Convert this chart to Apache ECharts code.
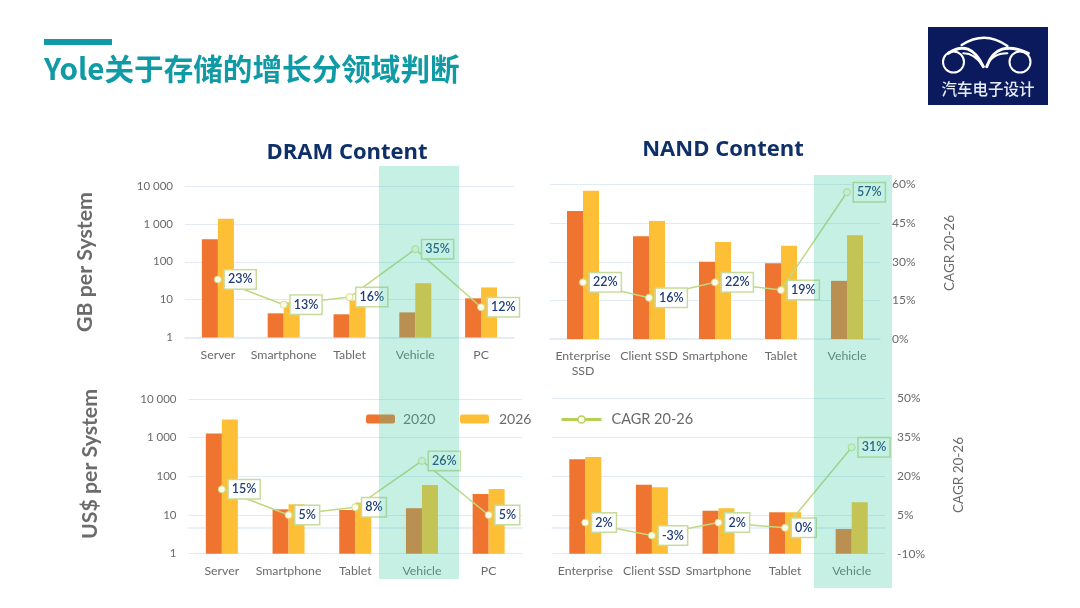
<!DOCTYPE html>
<html><head><meta charset="utf-8">
<style>html,body{margin:0;padding:0;background:#fff}#c{width:1080px;height:608px}</style>
<script src="https://cdn.jsdelivr.net/npm/echarts@6/dist/echarts.min.js"></script>
</head><body><div id="c"></div>
<script>
const dramCats = ['Server','Smartphone','Tablet','Vehicle','PC'];
const nandCatsTop = ['Enterprise\nSSD','Client SSD','Smartphone','Tablet','Vehicle'];
const nandCatsBottom = ['Enterprise','Client SSD','Smartphone','Tablet','Vehicle'];

const dramGb2020 = [390,4.35,4.1,4.6,10.8];
const dramGb2026 = [1365,8.5,9.5,27,21];
const dramGbCagr = [23,13,16,35,12];

const nandGb2020 = [2070,457,100,91,32];
const nandGb2026 = [6900,1140,325,261,485];
const nandGbCagr = [22,16,22,19,57];

const dramUsd2020 = [1290,14,13.5,15,35];
const dramUsd2026 = [2970,19,21,60,47];
const dramUsdCagr = [15,5,8,26,5];

const nandUsd2020 = [267,59,12.7,11.6,4.3];
const nandUsd2026 = [305,51,14.7,11.6,21];
const nandUsdCagr = [2,-3,2,0,31];

const cagrTicksTop = [0,15,30,45,60];
const cagrTicksBottom = [-10,5,20,35,50];

const FONT = 'Lato, "Noto Sans", sans-serif';
const ORANGE = '#ee7430', YELLOW = '#fdbf36', LINE = '#bdd983', GRIDC = '#e2eaf6';

const panels = [
  {cats:dramCats, a:dramGb2020, b:dramGb2026, c:dramGbCagr, left:185, top:186, w:329, h:151.5, logLabels:true, rightTicks:cagrTicksTop, showRight:false},
  {cats:nandCatsTop, a:nandGb2020, b:nandGb2026, c:nandGbCagr, left:550, top:184.5, w:330, h:154.5, logLabels:false, rightTicks:cagrTicksTop, showRight:true},
  {cats:dramCats, a:dramUsd2020, b:dramUsd2026, c:dramUsdCagr, left:188.5, top:399, w:333.5, h:154.7, logLabels:true, rightTicks:cagrTicksBottom, showRight:false},
  {cats:nandCatsBottom, a:nandUsd2020, b:nandUsd2026, c:nandUsdCagr, left:552, top:398, w:333, h:155.7, logLabels:false, rightTicks:cagrTicksBottom, showRight:true}
];

const grid=[], xAxis=[], yAxis=[], series=[];
panels.forEach((p,i)=>{
  grid.push({left:p.left, top:p.top, width:p.w, height:p.h, containLabel:false});
  xAxis.push({type:'category', gridIndex:i, data:p.cats,
    axisLine:{lineStyle:{color:GRIDC,width:1.5}}, axisTick:{show:false},
    axisLabel:{interval:0, color:'#6a6a6a', fontSize:12.3, fontFamily:FONT, margin:10, lineHeight:15}});
  yAxis.push({type:'log', logBase:10, gridIndex:i, min:1, max:10000, position:'left',
    axisLine:{show:false}, axisTick:{show:false},
    splitLine:{show:true, lineStyle:{color:GRIDC,width:1}},
    axisLabel:{show:p.logLabels, color:'#6a6a6a', fontSize:11.5, fontFamily:FONT, margin:12,
      formatter:v=>String(Math.round(v)).replace(/\B(?=(\d{3})+$)/g,' ')}});
  yAxis.push({type:'value', gridIndex:i, min:p.rightTicks[0], max:p.rightTicks[p.rightTicks.length-1], position:'right',
    axisLine:{show:false}, axisTick:{show:false}, splitLine:{show:false},
    axisLabel:{show:p.showRight, customValues:p.rightTicks, color:'#6a6a6a', fontSize:12, fontFamily:FONT, margin:12, formatter:'{value}%'}});
  series.push({name:'2020', type:'bar', xAxisIndex:i, yAxisIndex:i*2, data:p.a, barWidth:16, barGap:'0%', itemStyle:{color:ORANGE}, z:2});
  series.push({name:'2026', type:'bar', xAxisIndex:i, yAxisIndex:i*2, data:p.b, barWidth:16, barGap:'0%', itemStyle:{color:YELLOW}, z:2});
  series.push({name:'CAGR 20-26', type:'line', xAxisIndex:i, yAxisIndex:i*2+1, data:p.c, z:5,
    symbol:'circle', symbolSize:7, showAllSymbol:true,
    lineStyle:{color:LINE,width:1.5},
    itemStyle:{color:'#fffbe8',borderColor:'#cfe08f',borderWidth:1},
    label:{show:true, position:'right', distance:3, formatter:'{c}%', color:'#1d3c78', fontSize:12.5, fontWeight:600, fontFamily:FONT,
      backgroundColor:'#fff', borderColor:'#c6dc9c', borderWidth:1.5, padding:[3,3,2,3]}});
});

function vtext(x,y,t,size,weight,color){
  return {type:'text', x:x, y:y, rotation:Math.PI/2, z:50,
    style:{text:t, fill:color, font:`${weight} ${size}px ${FONT}`, textAlign:'center', textVerticalAlign:'middle'}};
}
function curve(x1,y1,cx,cy,x2,y2,w){
  return {type:'bezierCurve', z:61, shape:{x1,y1,x2,y2,cpx1:cx,cpy1:cy},
    style:{stroke:'#fff',lineWidth:w,fill:null,lineCap:'round'}};
}
const LX=920, LY=20;
const lg=(x,y)=>[LX+x/3, LY+y/3];
function crv(a,b,c,w){const p=lg(...a),q=lg(...b),r=lg(...c);return curve(p[0],p[1],q[0],q[1],r[0],r[1],w);}

const legendText = s=>({color:'#6a6a6a',fontFamily:FONT,fontSize:s});
const option = {
  backgroundColor:'#fff', animation:false,
  title:[
    {text:'Yole关于存储的增长分领域判断', left:44, top:54, padding:0, textStyle:{color:'#0f9aa6',fontSize:29.6,fontWeight:'bold',fontFamily:'"Noto Sans CJK SC", "Noto Sans", sans-serif'}},
    {text:'DRAM Content', left:347, top:142, padding:0, textAlign:'center', textStyle:{color:'#0e2f68',fontSize:22,fontWeight:'bold',fontFamily:'"Open Sans", sans-serif'}},
    {text:'NAND Content', left:723, top:139, padding:0, textAlign:'center', textStyle:{color:'#0e2f68',fontSize:22,fontWeight:'bold',fontFamily:'"Open Sans", sans-serif'}}
  ],
  legend:[
    {data:['2020'], left:366, top:412, padding:0, itemWidth:29, itemHeight:9, selectedMode:false, textStyle:{...legendText(14),padding:[0,0,0,3]}},
    {data:['2026'], left:460, top:412, padding:0, itemWidth:29, itemHeight:9, selectedMode:false, textStyle:{...legendText(14),padding:[0,0,0,5]}},
    {data:['CAGR 20-26'], left:560, top:412, padding:0, itemWidth:40, itemHeight:9, selectedMode:false, textStyle:{...legendText(14.5),padding:[0,0,0,5]},
      lineStyle:{width:3,color:'#b5d155'}, itemStyle:{color:'#fff',borderColor:'#b5d155',borderWidth:1.5}}
  ],
  grid, xAxis, yAxis, series,
  graphic:{elements:[
    {type:'rect', z:50, shape:{x:44,y:39,width:68,height:6}, style:{fill:'#0f9aa6'}},
    vtext(85,262,'GB per System',21.3,'bold','#6b6b6b'),
    vtext(90,464,'US$ per System',21.3,'bold','#6b6b6b'),
    vtext(950,253,'CAGR 20-26',13.5,'normal','#6a6a6a'),
    vtext(959,475,'CAGR 20-26',13.5,'normal','#6a6a6a'),
    {type:'rect', z:40, shape:{x:379,y:166,width:80,height:413}, style:{fill:'rgba(62,205,161,0.3)'}},
    {type:'rect', z:40, shape:{x:814,y:175,width:78,height:413}, style:{fill:'rgba(62,205,161,0.3)'}},
    {type:'rect', z:60, shape:{x:928,y:27,width:120,height:78}, style:{fill:'#0b1a5c'}},
    {type:'ring', z:61, shape:{cx:953.5,cy:62,r:11.5,r0:9.5}, style:{fill:'#fff'}},
    {type:'ring', z:61, shape:{cx:1020,cy:62,r:11.5,r0:9.5}, style:{fill:'#fff'}},
    crv([125,75],[195,30],[262,78],2.5),
    crv([85,100],[150,55],[190,140],3),
    crv([200,140],[230,55],[325,100],3),
    crv([130,100],[165,100],[190,140],2),
    crv([200,140],[215,100],[262,100],2),
    {type:'text', z:61, x:988, y:89, style:{text:'汽车电子设计', fill:'#e8ecf5', font:'500 15.5px "Noto Sans CJK SC"', textAlign:'center', textVerticalAlign:'middle'}}
  ]}
};
const chart = echarts.init(document.getElementById('c'), null, {renderer:'canvas'});
chart.setOption(option);
</script></body></html>
